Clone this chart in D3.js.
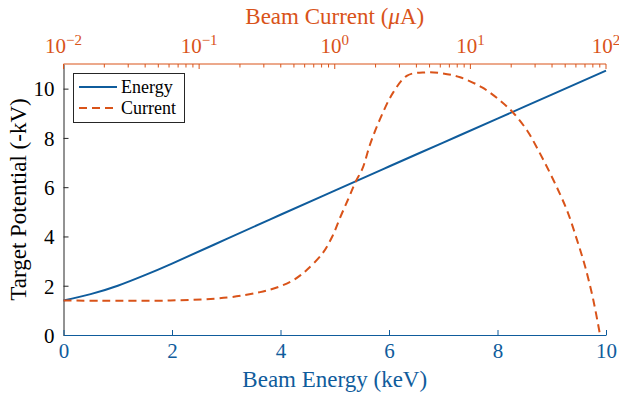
<!DOCTYPE html>
<html><head><meta charset="utf-8"><script src="https://cdn.jsdelivr.net/npm/d3@7"></script>
<style>svg text, svg tspan { font-family: "Times New Roman", "Liberation Serif", Tinos !important; }</style>
</head><body style="margin:0">
<svg id="c" width="619" height="396"></svg>
<script>
// Energy series: beam energy (keV) vs target potential (-kV)
const energyKeV = [0, 0.5, 1, 1.5, 2, 3, 4, 5, 6, 7, 8, 9, 10];
const energyPotential = [1.40, 1.66, 2.00, 2.43, 2.90, 3.89, 4.88, 5.86, 6.84, 7.81, 8.78, 9.76, 10.73];
// Current series: beam current (uA) vs target potential (-kV)
const currentUA = [0.01, 0.0188, 0.0614, 0.161, 0.282, 0.397, 0.486, 0.557, 0.627, 0.809, 0.959, 1.10, 1.26, 1.42, 1.60, 1.83, 2.16, 2.70, 3.42, 4.65, 6.19, 8.40, 12.2, 16.6, 20.7, 26.2, 31.6, 38.6, 45.8, 52.5, 61.1, 70.0, 80.2, 90.4];
const currentPotential = [1.40, 1.39, 1.40, 1.52, 1.74, 1.98, 2.20, 2.42, 2.66, 3.30, 4.00, 4.79, 5.53, 6.20, 6.75, 7.77, 8.77, 9.85, 10.53, 10.66, 10.62, 10.46, 10.05, 9.51, 9.02, 8.30, 7.51, 6.58, 5.72, 4.95, 3.86, 2.80, 1.48, 0];
const energyTicks = [0, 2, 4, 6, 8, 10];
const potentialTicks = [0, 2, 4, 6, 8, 10];
const currentTickExps = [-2, -1, 0, 1, 2];
const labels = {x: "Beam Energy (keV)", y: "Target Potential (-kV)", top: "Beam Current (", topUnit: "μ", topEnd: "A)"};
const seriesNames = ["Energy", "Current"];

const FONT = '"Times New Roman"';
const BLUE = "#0f5c9c", ORANGE = "#d95319", DARK = "#262626";
const L = 63.5, R = 606, T = 64, B = 335;
const svg = d3.select("#c");
const xE = d3.scaleLinear().domain([0, 10]).range([L, R]);
const xI = d3.scaleLog().domain([0.01, 100]).range([L, R]);
const y = d3.scaleLinear().domain([0, 11]).range([B, T]);
const FS = "21px", TFS = "23px";

// left axis
const gy = svg.append("g").attr("transform", `translate(${L},0)`)
  .call(d3.axisLeft(y).tickValues(potentialTicks).tickSizeInner(-5).tickSizeOuter(0).tickPadding(9).tickFormat(d3.format("d")));
gy.attr("font-family", null);
gy.select(".domain").attr("stroke", DARK);
gy.selectAll(".tick line").attr("stroke", DARK);
gy.selectAll("text").attr("fill", "#000").attr("dy", "0.35em").style("font-family", FONT).style("font-size", FS);

// bottom axis
const gx = svg.append("g").attr("transform", `translate(0,${B})`)
  .call(d3.axisBottom(xE).tickValues(energyTicks).tickSizeInner(-5).tickSizeOuter(0).tickPadding(8).tickFormat(d3.format("d")));
gx.attr("font-family", null);
gx.select(".domain").attr("stroke", BLUE);
gx.selectAll(".tick line").attr("stroke", BLUE);
gx.selectAll("text").attr("fill", BLUE).style("font-family", FONT).style("font-size", FS);

// top axis (log)
const minor = [];
for (let e = -2; e < 2; e++) for (let m = 2; m <= 9; m++) minor.push(m * Math.pow(10, e));
const gt = svg.append("g").attr("transform", `translate(0,${T})`);
gt.append("line").attr("x1", L).attr("x2", R).attr("y1", 0).attr("y2", 0).attr("stroke", ORANGE);
gt.selectAll(".mn").data(minor).join("line").attr("x1", d => xI(d)).attr("x2", d => xI(d)).attr("y1", 0).attr("y2", 3.5).attr("stroke", ORANGE);
gt.selectAll(".mj").data(currentTickExps).join("line").attr("x1", d => xI(Math.pow(10, d))).attr("x2", d => xI(Math.pow(10, d))).attr("y1", 0).attr("y2", 5).attr("stroke", ORANGE);
const tl = gt.selectAll(".tl").data(currentTickExps).join("text")
  .attr("x", d => xI(Math.pow(10, d))).attr("y", -11).attr("text-anchor", "middle")
  .attr("fill", ORANGE).style("font-family", FONT).style("font-size", FS);
tl.append("tspan").text("10");
tl.append("tspan").attr("dy", -8).style("font-size", "15px").text(d => d < 0 ? "\u2212" + Math.abs(d) : d);

// axis titles
svg.append("text").attr("x", (L + R) / 2).attr("y", 387).attr("text-anchor", "middle").attr("fill", BLUE).style("font-family", FONT).style("font-size", TFS).text(labels.x);
const tt = svg.append("text").attr("x", (L + R) / 2).attr("y", 24).attr("text-anchor", "middle").attr("fill", ORANGE).style("font-family", FONT).style("font-size", TFS);
tt.append("tspan").text(labels.top);
tt.append("tspan").style("font-style", "italic").text(labels.topUnit);
tt.append("tspan").text(labels.topEnd);
svg.append("text").attr("transform", `translate(26,${(T + B) / 2}) rotate(-90)`).attr("text-anchor", "middle").attr("fill", "#000").style("font-family", FONT).style("font-size", TFS).text(labels.y);

// lines
const lineE = d3.line().x(d => xE(d[0])).y(d => y(d[1])).curve(d3.curveNatural);
svg.append("path").datum(energyKeV.map((k, i) => [k, energyPotential[i]]))
  .attr("d", lineE).attr("fill", "none").attr("stroke", BLUE).attr("stroke-width", 2);
const lineI = d3.line().x(d => xI(d[0])).y(d => y(d[1])).curve(d3.curveCatmullRom.alpha(0.5));
svg.append("path").datum(currentUA.map((c, i) => [c, currentPotential[i]]))
  .attr("d", lineI).attr("fill", "none").attr("stroke", ORANGE).attr("stroke-width", 2).attr("stroke-dasharray", "8,5");

// legend
const lg = svg.append("g");
lg.append("rect").attr("x", 73.5).attr("y", 73.5).attr("width", 111).attr("height", 49).attr("fill", "#fff").attr("stroke", DARK).attr("stroke-width", 1);
const items = [{n: seriesNames[0], c: BLUE, dash: null}, {n: seriesNames[1], c: ORANGE, dash: "8,5"}];
items.forEach((it, i) => {
  const yy = 87 + i * 21;
  lg.append("line").attr("x1", 79).attr("x2", 117).attr("y1", yy).attr("y2", yy).attr("stroke", it.c).attr("stroke-width", 2).attr("stroke-dasharray", it.dash);
  lg.append("text").attr("x", 121).attr("y", yy).attr("dy", "0.35em").attr("fill", "#000").style("font-family", FONT).style("font-size", "18px").text(it.n);
});
</script></body></html>
